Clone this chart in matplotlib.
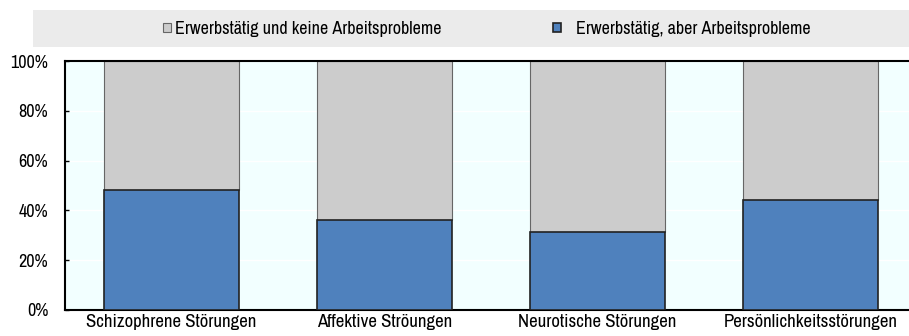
import matplotlib.pyplot as plt
import numpy as np
from matplotlib.patches import Rectangle

plt.rcParams['font.family'] = ['Archivo Narrow', 'Roboto Condensed', 'Liberation Sans', 'DejaVu Sans']

categories = ["Schizophrene Störungen", "Affektive Ströungen",
              "Neurotische Störungen", "Persönlichkeitsstörungen"]
with_problems = [48, 36, 31.4, 44]
no_problems = [100 - v for v in with_problems]
legend_labels = ['Erwerbstätig und keine Arbeitsprobleme', 'Erwerbstätig, aber Arbeitsprobleme']

blue = '#4F81BD'
grey = '#CCCCCC'

fig = plt.figure(figsize=(9.09, 3.36), dpi=100)
W, H = 909, 336

# legend band
band = Rectangle((33 / W, 1 - 47 / H), (W - 33) / W, 37 / H,
                 transform=fig.transFigure, facecolor='#EBEBEB', edgecolor='none')
fig.patches.append(band)

ax = fig.add_axes([65 / W, 1 - 310 / H, (W - 65) / W, 249 / H])
ax.set_facecolor('#F2FFFF')

x = np.arange(len(categories))
b_blue = ax.bar(x, with_problems, width=0.63, color=blue, edgecolor='#222222',
                linewidth=1.2, zorder=3)
b_grey = ax.bar(x, no_problems, bottom=with_problems, width=0.63, color=grey,
                edgecolor='#666666', linewidth=0.8, zorder=2)

ax.set_xlim(-0.5, -0.5 + 844 / 213)
ax.set_ylim(0, 100)
ax.set_yticks(range(0, 101, 20))
ax.set_yticklabels([f'{v}%' for v in range(0, 101, 20)])
ax.set_xticks(x)
ax.set_xticklabels(categories)
ax.tick_params(axis='x', length=0, pad=3, labelsize=13.5)
ax.tick_params(axis='y', length=3, width=1, direction='in', labelsize=13, pad=12)

ax.grid(True, color='white', linewidth=1, zorder=0)
ax.set_axisbelow(True)
for side in ['left', 'top', 'bottom']:
    ax.spines[side].set_linewidth(1.5)
    ax.spines[side].set_color('black')
ax.spines['right'].set_visible(False)

# two separate legend entries, each placed in the band
common = dict(loc='center left', frameon=False, fontsize=13, handlelength=0.42,
              handleheight=0.42, borderpad=0, borderaxespad=0)
fig.legend([b_grey], [legend_labels[0]], bbox_to_anchor=(163 / W, 1 - 29 / H),
           handletextpad=0.25, **common)
fig.legend([b_blue], [legend_labels[1]], bbox_to_anchor=(553 / W, 1 - 29 / H),
           handletextpad=0.85, **common)

fig.savefig('out.png', dpi=100)
